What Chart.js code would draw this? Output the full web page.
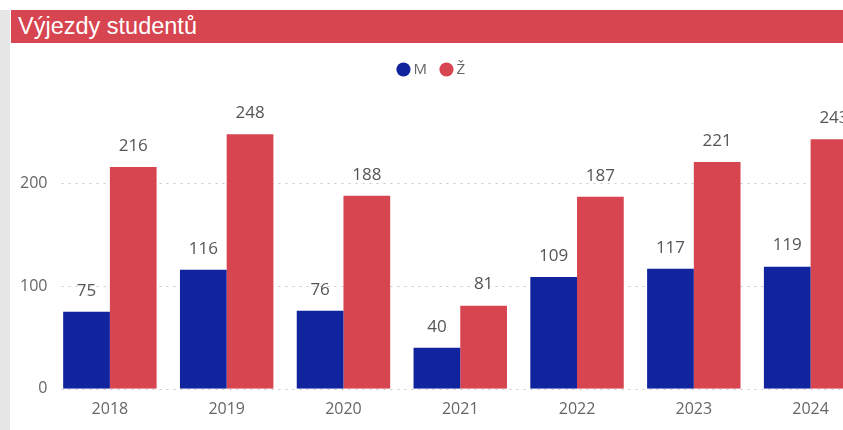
<!DOCTYPE html>
<html>
<head>
<meta charset="utf-8">
<script src="https://cdn.jsdelivr.net/npm/chart.js@4/dist/chart.umd.min.js"></script>
<style>
  html, body { margin: 0; padding: 0; width: 843px; height: 430px; overflow: hidden; background: #fff; position: relative; }
  #strip { position: absolute; left: 0; top: 10px; width: 10px; height: 420px; background: #e6e6e6; z-index: 2; }
  #title { position: absolute; left: 11px; top: 10px; right: 0; height: 33px; background: #d64550; color: #fff;
           font: 23.5px "Liberation Sans", Arial, sans-serif; line-height: 33px; padding-left: 7px;
           box-sizing: border-box; z-index: 2; white-space: nowrap; }
  #wrap { position: absolute; left: -3px; top: 45px; width: 872px; height: 385px; }
</style>
</head>
<body>
<div id="strip"></div>
<div id="title">Výjezdy studentů</div>
<div id="wrap"><canvas id="c"></canvas></div>
<script>
// Student outbound mobilities per year, by gender
const years  = ['2018', '2019', '2020', '2021', '2022', '2023', '2024'];
const muzi   = [75, 116, 76, 40, 109, 117, 119];
const zeny   = [216, 248, 188, 81, 187, 221, 243];
const yTicks = [0, 100, 200];

const FONT = '"Open Sans", "Noto Sans", sans-serif';

// Dotted horizontal guides at each y tick, drawn beneath the bars
const dottedGrid = {
  id: 'dottedGrid',
  beforeDatasetsDraw(chart) {
    const { ctx, chartArea, scales: { y } } = chart;
    ctx.save();
    ctx.strokeStyle = '#c8c8c8';
    ctx.lineWidth = 1;
    ctx.setLineDash([2, 5]);
    yTicks.forEach(v => {
      const py = Math.round(y.getPixelForValue(v)) + 0.5;
      ctx.beginPath();
      ctx.moveTo(chartArea.left + 10, py);
      ctx.lineTo(chartArea.right, py);
      ctx.stroke();
    });
    ctx.restore();
  }
};

// Value written above each bar
const valueLabels = {
  id: 'valueLabels',
  afterDatasetsDraw(chart) {
    const { ctx } = chart;
    ctx.save();
    ctx.font = '17px ' + FONT;
    ctx.fillStyle = '#555';
    ctx.textAlign = 'center';
    ctx.textBaseline = 'middle';
    chart.data.datasets.forEach((ds, i) => {
      chart.getDatasetMeta(i).data.forEach((bar, j) => {
        ctx.fillText(String(ds.data[j]), bar.x, bar.y - 21);
      });
    });
    ctx.restore();
  }
};

new Chart(document.getElementById('c'), {
  type: 'bar',
  data: {
    labels: years,
    datasets: [
      { label: 'M', data: muzi, backgroundColor: '#12239e', borderWidth: 0,
        categoryPercentage: 0.8, barPercentage: 1.0 },
      { label: 'Ž', data: zeny, backgroundColor: '#d64550', borderWidth: 0,
        categoryPercentage: 0.8, barPercentage: 1.0 }
    ]
  },
  options: {
    responsive: true,
    maintainAspectRatio: false,
    animation: false,
    layout: { padding: { top: 0, left: 0, right: 0, bottom: 8 } },
    plugins: {
      legend: {
        position: 'top',
        align: 'center',
        labels: {
          usePointStyle: true,
          pointStyle: 'circle',
          boxWidth: 5,
          boxHeight: 10,
          padding: 17,
          color: '#666',
          font: { family: FONT, size: 15 }
        }
      },
      tooltip: { enabled: false }
    },
    scales: {
      x: {
        grid: { display: false },
        border: { display: false },
        ticks: { padding: 3, color: '#666', font: { family: FONT, size: 16 } }
      },
      y: {
        min: 0,
        max: 294,
        afterBuildTicks(scale) { scale.ticks = yTicks.map(v => ({ value: v })); },
        afterFit(scale) { scale.width = 54.5; },
        grid: { display: false, drawTicks: false },
        border: { display: false },
        ticks: { padding: 4, color: '#666', font: { family: FONT, size: 16 } }
      }
    }
  },
  plugins: [dottedGrid, valueLabels]
});
</script>
</body>
</html>
